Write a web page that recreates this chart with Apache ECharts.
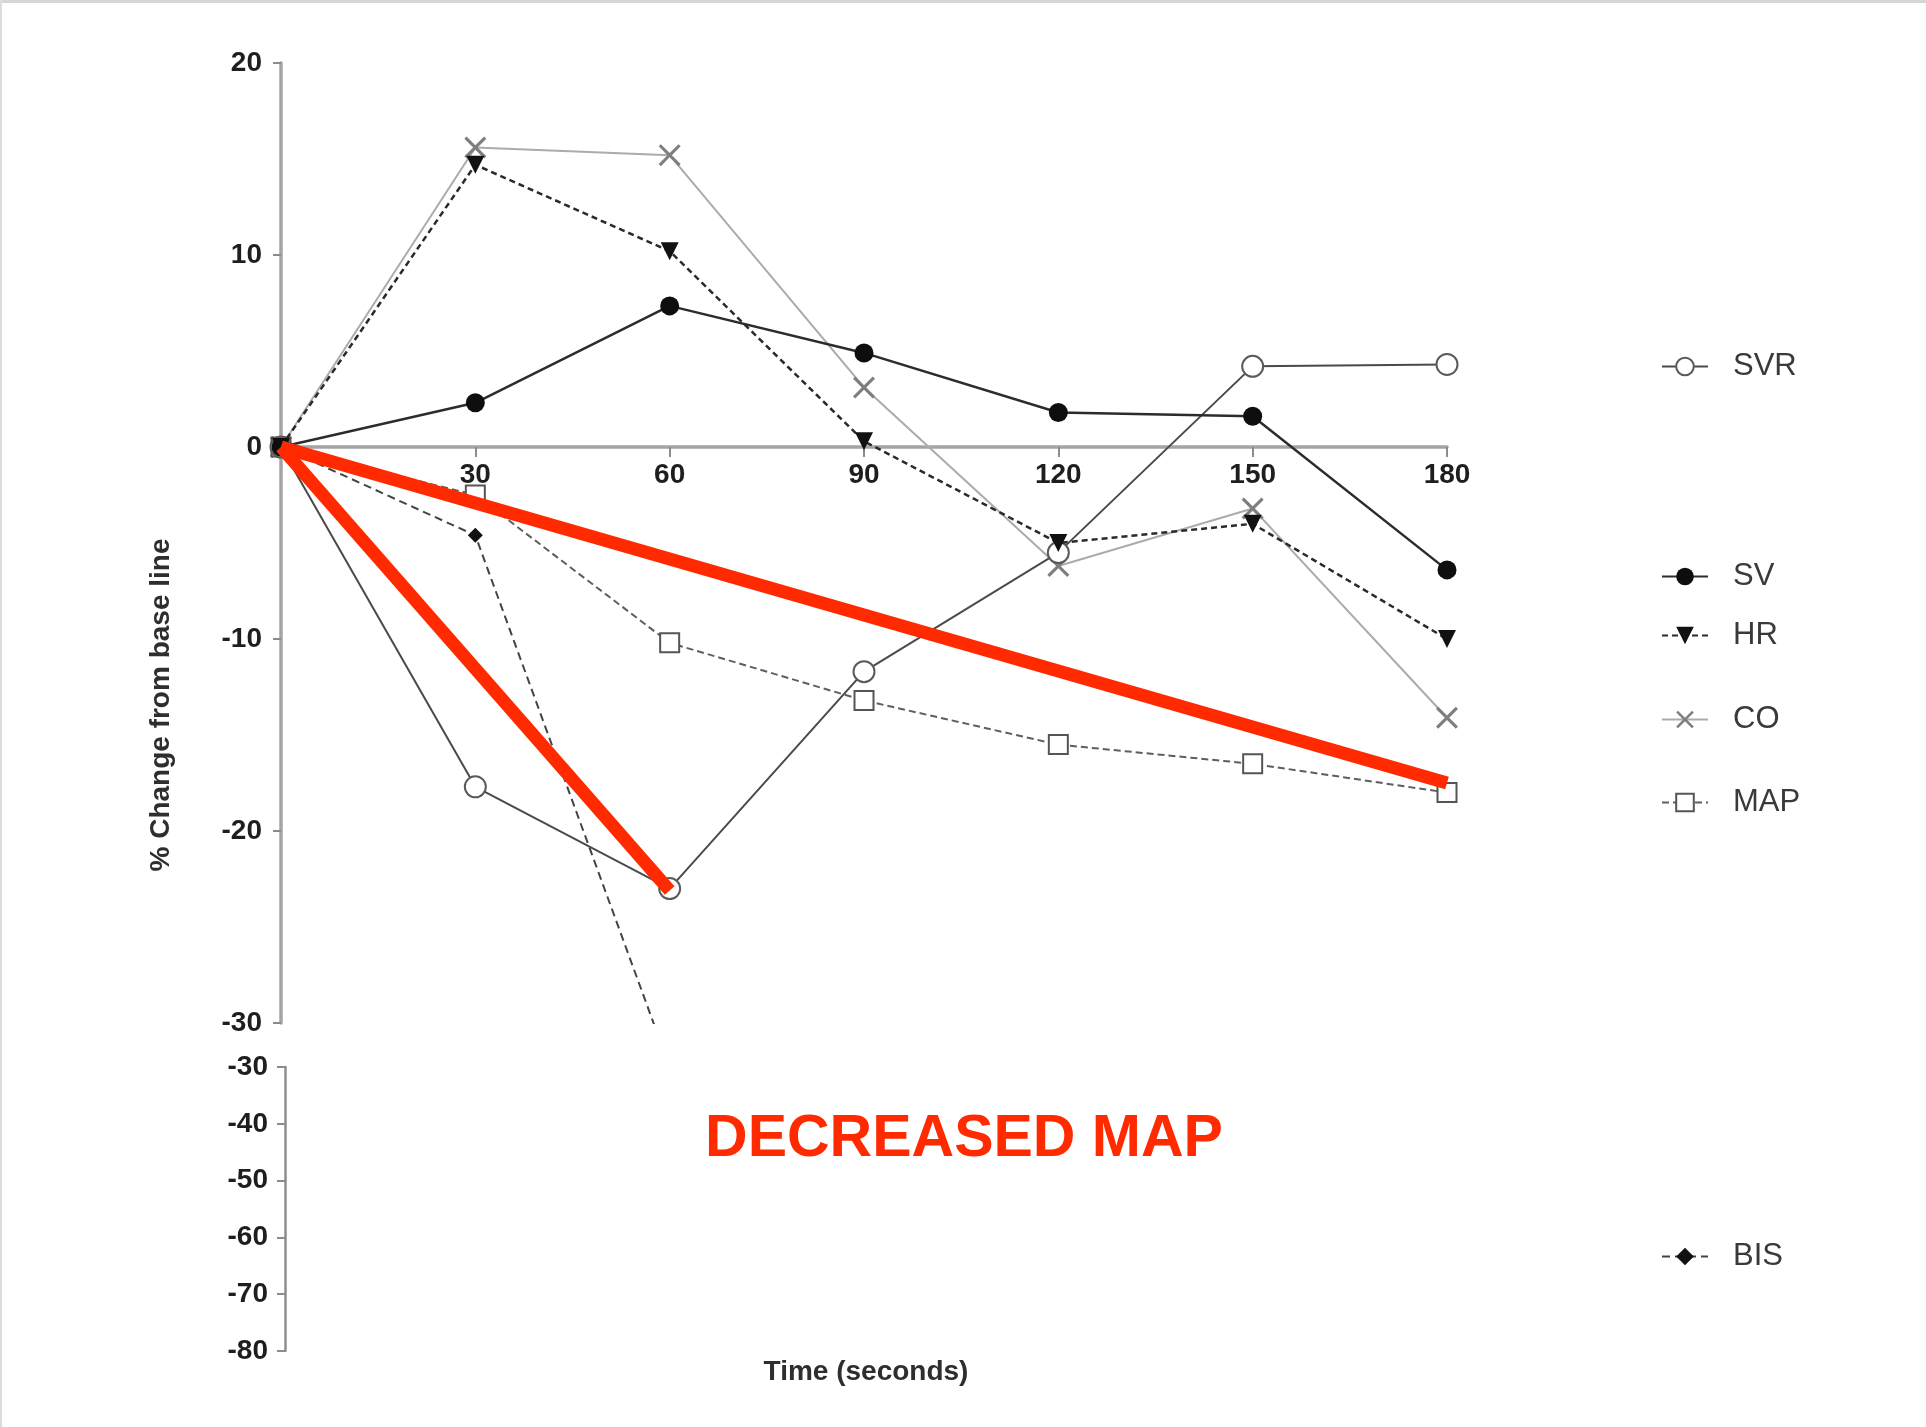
<!DOCTYPE html>
<html>
<head>
<meta charset="utf-8">
<title>% Change from base line</title>
<script src="https://cdn.jsdelivr.net/npm/echarts@6/dist/echarts.min.js"></script>
<style>
  html, body { margin: 0; padding: 0; background: #ffffff; }
  #chart { width: 1926px; height: 1427px; }
</style>
</head>
<body>
<div id="chart"></div>
<script>
// Sampling times (seconds)
const times = [0, 30, 60, 90, 120, 150, 180];
const xTicks = [30, 60, 90, 120, 150, 180];

// % change from base line for each haemodynamic variable
const svr = [0, -17.7, -23.0, -11.7, -5.5, 4.2, 4.3];
const sv  = [0, 2.3, 7.35, 4.9, 1.8, 1.6, -6.4];
const hr  = [0, 14.7, 10.2, 0.3, -5.0, -4.0, -10.0];
const co  = [0, 15.6, 15.2, 3.1, -6.2, -3.2, -14.1];
const map = [0, -2.5, -10.2, -13.2, -15.5, -16.5, -18.0];

// BIS drops steeply and leaves the upper panel after 30 s
const bisTimes = [0, 30, 60];
const bis = [0, -4.6, -32.3];

// Highlight strokes for the pressure drop
const dropTimesA = [0, 60];
const dropValsA = [0, -23.1];
const dropTimesB = [0, 180];
const dropValsB = [0, -17.5];

// Axis ranges
const upperRange = [-30, 20];
const lowerRange = [-80, -30];

const pair = (xs, ys) => xs.map((x, i) => [x, ys[i]]);

const FONT = '"Liberation Sans", Arial, Helvetica, sans-serif';
const crossPath = 'path://M1,0L5,4L9,0L10,1L6,5L10,9L9,10L5,6L1,10L0,9L4,5L0,1Z';

// Upper panel geometry; the time axis is drawn across the zero line
const upperTop = 63;
const upperHeight = 960;
const zeroOffset = upperHeight * (0 - upperRange[0]) / (upperRange[1] - upperRange[0]);

const chart = echarts.init(document.getElementById('chart'), null, { renderer: 'canvas' });

function legendAt(name, top) {
  return {
    data: [name],
    left: 1661,
    top: top,
    orient: 'vertical',
    padding: 0,
    itemGap: 0,
    itemWidth: 46,
    itemHeight: 22,
    selectedMode: false,
    textStyle: { fontFamily: FONT, fontSize: 31, color: '#3a3a3a', padding: [0, 0, 0, 20] }
  };
}

const axisLabelStyle = { fontFamily: FONT, fontSize: 28, fontWeight: 'bold', color: '#1e1e1e' };

const option = {
  backgroundColor: '#ffffff',
  animation: false,
  grid: [
    { left: 281, top: upperTop, width: 1166, height: upperHeight, outerBoundsMode: 'none', containLabel: false },
    { left: 285, top: 1067, width: 1162, height: 284, outerBoundsMode: 'none', containLabel: false }
  ],
  xAxis: [
    {
      type: 'value', gridIndex: 0, min: 0, max: 180, interval: 30,
      position: 'bottom', offset: -zeroOffset,
      axisLine: { show: true, onZero: false, lineStyle: { color: '#a4a4a4', width: 3.5 } },
      axisTick: { show: true, length: 10, lineStyle: { color: '#8c8c8c', width: 2 } },
      axisLabel: {
        ...axisLabelStyle, margin: 14,
        formatter: v => (xTicks.indexOf(v) >= 0 ? String(v) : '')
      },
      splitLine: { show: false }
    },
    { type: 'value', gridIndex: 1, min: 0, max: 180, show: false }
  ],
  yAxis: [
    {
      type: 'value', gridIndex: 0, min: upperRange[0], max: upperRange[1], interval: 10,
      axisLine: { show: true, onZero: false, lineStyle: { color: '#a4a4a4', width: 3.5 } },
      axisTick: { show: true, length: 8, lineStyle: { color: '#8c8c8c', width: 2 } },
      axisLabel: { ...axisLabelStyle, margin: 19 },
      splitLine: { show: false }
    },
    {
      type: 'value', gridIndex: 1, min: lowerRange[0], max: lowerRange[1], interval: 10,
      axisLine: { show: true, onZero: false, lineStyle: { color: '#8e8e8e', width: 2.5 } },
      axisTick: { show: true, length: 8, lineStyle: { color: '#8c8c8c', width: 2 } },
      axisLabel: { ...axisLabelStyle, margin: 17 },
      splitLine: { show: false }
    }
  ],
  legend: [
    legendAt('SVR', 351),
    legendAt('SV', 561),
    legendAt('HR', 620),
    legendAt('CO', 704),
    legendAt('MAP', 787),
    legendAt('BIS', 1241)
  ],
  graphic: [
    { type: 'rect', left: 0, top: 0, shape: { width: 1926, height: 3 }, style: { fill: '#d6d6d6' }, silent: true },
    { type: 'rect', left: 0, top: 0, shape: { width: 2, height: 1427 }, style: { fill: '#dcdcdc' }, silent: true },
    {
      type: 'text', x: 161, y: 705, rotation: Math.PI / 2,
      style: { text: '% Change from base line', font: 'bold 28px ' + FONT, fill: '#2e2e2e', align: 'center', verticalAlign: 'middle' }
    },
    {
      type: 'text', x: 866, y: 1372,
      style: { text: 'Time (seconds)', font: 'bold 28px ' + FONT, fill: '#2e2e2e', align: 'center', verticalAlign: 'middle' }
    },
    {
      type: 'text', x: 964, y: 1140,
      style: { text: 'DECREASED MAP', font: 'bold 59px ' + FONT, fill: '#ff2a00', align: 'center', verticalAlign: 'middle' }
    }
  ],
  series: [
    {
      name: 'CO', type: 'line', xAxisIndex: 0, yAxisIndex: 0, data: pair(times, co),
      symbol: crossPath, symbolSize: 22,
      lineStyle: { color: '#ababab', width: 2 },
      itemStyle: { color: '#7e7e7e' }, z: 2
    },
    {
      name: 'MAP', type: 'line', xAxisIndex: 0, yAxisIndex: 0, data: pair(times, map),
      symbol: 'emptyRect', symbolSize: 19,
      lineStyle: { color: '#5e5e5e', width: 2, type: [7, 4] },
      itemStyle: { color: '#555555', borderWidth: 2 }, z: 3
    },
    {
      name: 'SVR', type: 'line', xAxisIndex: 0, yAxisIndex: 0, data: pair(times, svr),
      symbol: 'emptyCircle', symbolSize: 21,
      lineStyle: { color: '#4a4a4a', width: 2 },
      itemStyle: { color: '#5a5a5a', borderWidth: 2 }, z: 3
    },
    {
      name: 'BIS', type: 'line', xAxisIndex: 0, yAxisIndex: 0, data: pair(bisTimes, bis),
      symbol: 'diamond', symbolSize: 15, clip: true,
      lineStyle: { color: '#444444', width: 2, type: [8, 5] },
      itemStyle: { color: '#111111' }, z: 4
    },
    {
      name: 'HR', type: 'line', xAxisIndex: 0, yAxisIndex: 0, data: pair(times, hr),
      symbol: 'triangle', symbolSize: 18, symbolRotate: 180,
      lineStyle: { color: '#2a2a2a', width: 2.5, type: [6, 4] },
      itemStyle: { color: '#111111' }, z: 4
    },
    {
      name: 'SV', type: 'line', xAxisIndex: 0, yAxisIndex: 0, data: pair(times, sv),
      symbol: 'circle', symbolSize: 19,
      lineStyle: { color: '#2c2c2c', width: 2.5 },
      itemStyle: { color: '#0e0e0e' }, z: 5
    },
    {
      name: 'drop-a', type: 'line', xAxisIndex: 0, yAxisIndex: 0, data: pair(dropTimesA, dropValsA),
      symbol: 'none', silent: true,
      lineStyle: { color: '#ff2a00', width: 13, cap: 'butt' }, z: 10
    },
    {
      name: 'drop-b', type: 'line', xAxisIndex: 0, yAxisIndex: 0, data: pair(dropTimesB, dropValsB),
      symbol: 'none', silent: true,
      lineStyle: { color: '#ff2a00', width: 13, cap: 'butt' }, z: 10
    }
  ]
};

chart.setOption(option);
</script>
</body>
</html>
